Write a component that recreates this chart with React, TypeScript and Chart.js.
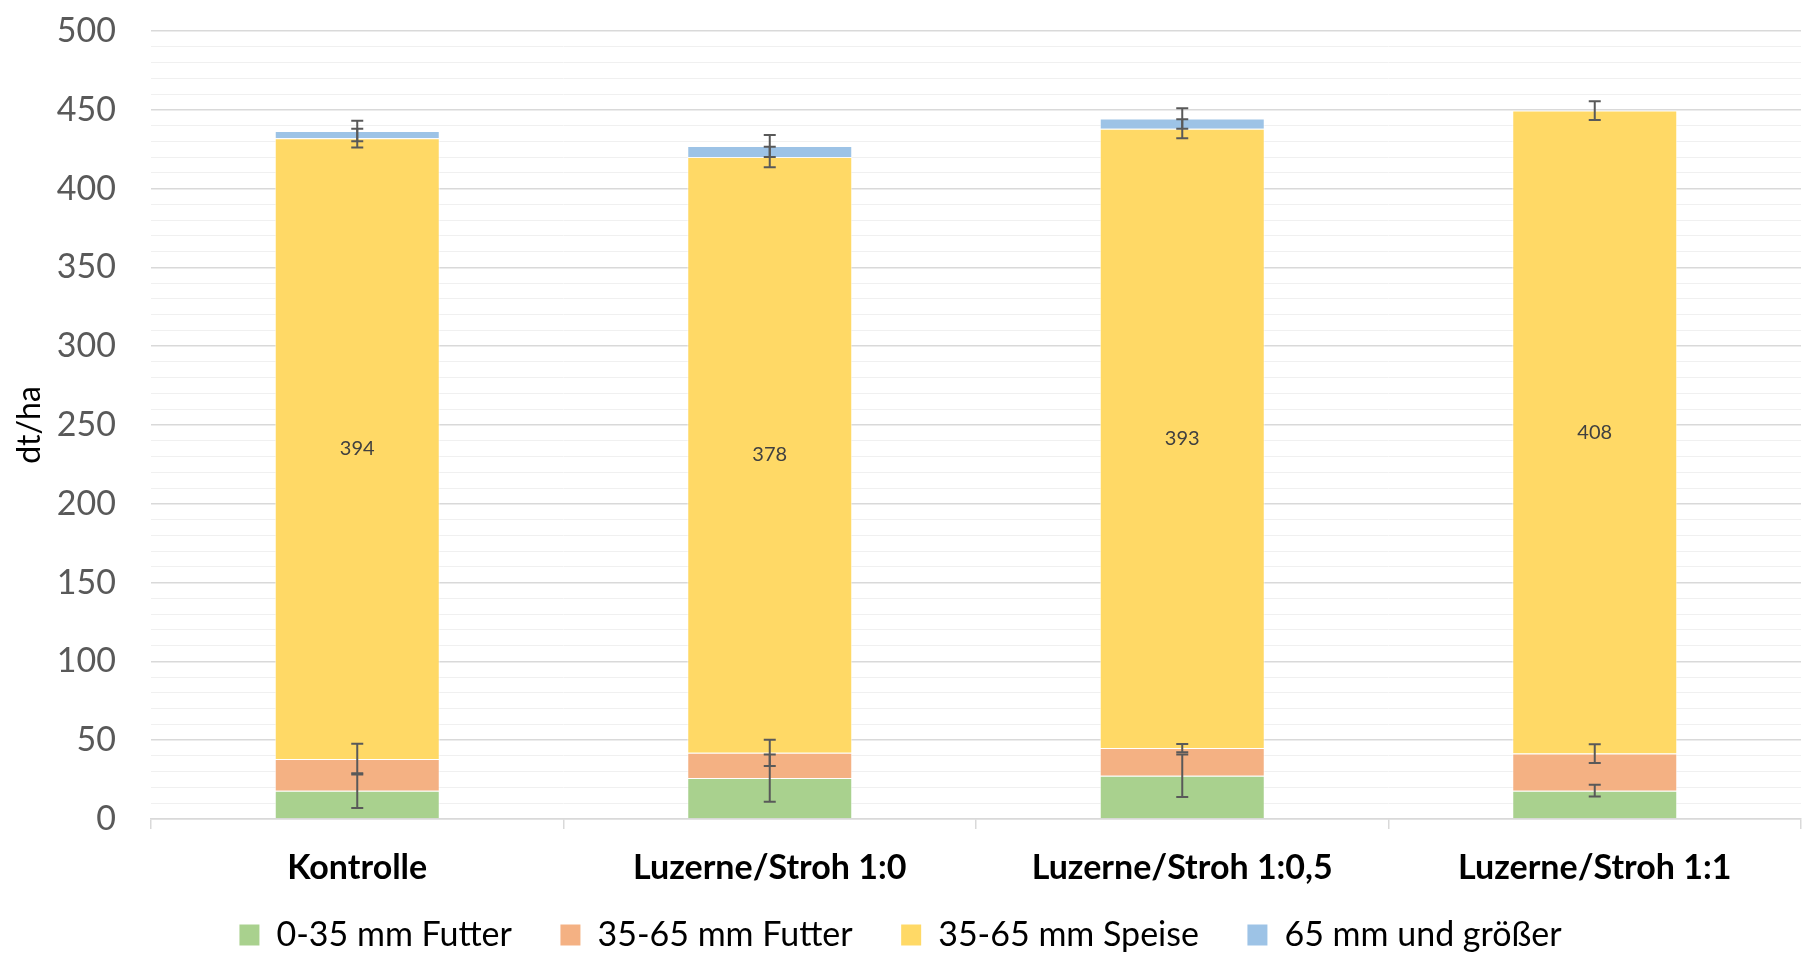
import React, { useEffect, useRef } from "react";
import { Chart, registerables } from "chart.js";

Chart.register(...registerables);

const FONT = 'Lato, "Open Sans", sans-serif';

const categories = ["Kontrolle", "Luzerne/Stroh 1:0", "Luzerne/Stroh 1:0,5", "Luzerne/Stroh 1:1"];
const seriesNames = ["0-35 mm Futter", "35-65 mm Futter", "35-65 mm Speise", "65 mm und größer"];

const futterSmall = [18, 26, 27.5, 18];
const futterMid = [20, 16, 17.5, 23.5];
const speise = [394, 378, 393, 408];
const large = [4.5, 7, 6.5, 0];

const futterSmallErr = [11, 15, 13.5, 3.8];
const futterMidErr = [9.8, 8.3, 2.6, 6];
const speiseErr = [6, 6.5, 6, 6];
const largeErr = [6.5, 7, 6.5, 0];

const yTicksMajor = [0, 50, 100, 150, 200, 250, 300, 350, 400, 450, 500];

const colors = ["#A9D18E", "#F4B183", "#FFD966", "#9DC3E6"];

const errorBarPlugin = {
  id: "errorBars",
  afterDatasetsDraw(chart: any) {
    const ctx = chart.ctx;
    const yScale = chart.scales.y;
    const n = chart.data.labels.length;
    ctx.save();
    ctx.strokeStyle = "#595959";
    ctx.lineWidth = 2;
    for (let j = 0; j < n; j++) {
      let cum = 0;
      chart.data.datasets.forEach((ds: any, i: number) => {
        const v = ds.data[j];
        cum += v;
        const err = ds.errors ? ds.errors[j] : 0;
        if (!err) return;
        const bar = chart.getDatasetMeta(i).data[j];
        const x = bar.x;
        const yT = yScale.getPixelForValue(cum + err);
        const yB = yScale.getPixelForValue(cum - err);
        const hw = 6;
        ctx.beginPath();
        ctx.moveTo(x, yT);
        ctx.lineTo(x, yB);
        ctx.moveTo(x - hw, yT);
        ctx.lineTo(x + hw, yT);
        ctx.moveTo(x - hw, yB);
        ctx.lineTo(x + hw, yB);
        ctx.stroke();
      });
    }
    ctx.restore();
  },
};

const valueLabelPlugin = {
  id: "valueLabels",
  afterDatasetsDraw(chart: any) {
    const ctx = chart.ctx;
    ctx.save();
    ctx.font = `20px ${FONT}`;
    ctx.fillStyle = "#404040";
    ctx.textAlign = "center";
    ctx.textBaseline = "middle";
    chart.data.datasets.forEach((ds: any, i: number) => {
      if (!ds.showValue) return;
      chart.getDatasetMeta(i).data.forEach((bar: any, j: number) => {
        const yc = (bar.y + bar.base) / 2;
        ctx.fillText(String(ds.data[j]), bar.x, yc);
      });
    });
    ctx.restore();
  },
};

export default function App() {
  const ref = useRef<HTMLCanvasElement | null>(null);

  useEffect(() => {
    if (!ref.current) return;
    const mk = (idx: number, data: number[], errors: number[], showValue = false) => ({
      label: seriesNames[idx],
      data,
      errors,
      showValue,
      backgroundColor: colors[idx],
      borderColor: "rgba(255,255,255,0.6)",
      borderWidth: 1,
      categoryPercentage: 1,
      barPercentage: 0.4,
    });
    const chart = new Chart(ref.current, {
      type: "bar",
      data: {
        labels: categories,
        datasets: [
          mk(0, futterSmall, futterSmallErr),
          mk(1, futterMid, futterMidErr),
          mk(2, speise, speiseErr, true),
          mk(3, large, largeErr),
        ] as any,
      },
      options: {
        animation: false,
        responsive: false,
        maintainAspectRatio: false,
        layout: { padding: { top: 31, right: 4, bottom: 0, left: 0 } },
        plugins: {
          legend: {
            position: "bottom",
            labels: {
              boxWidth: 20,
              boxHeight: 21,
              padding: 23,
              color: "#000000",
              font: { size: 34, family: FONT },
              generateLabels: (chart: any) => {
                const items = Chart.defaults.plugins.legend.labels.generateLabels(chart);
                return items.map((it: any, i: number) => ({
                  ...it,
                  text: i < items.length - 1 ? it.text + "\u2003" : it.text,
                  lineWidth: 0,
                }));
              },
            },
          } as any,
          tooltip: { enabled: false },
        },
        scales: {
          x: {
            stacked: true,
            afterFit: (s: any) => {
              s.height = 76;
            },
            grid: {
              display: true,
              drawOnChartArea: false,
              drawTicks: true,
              tickLength: 10,
              color: "#d9d9d9",
              lineWidth: 1.5,
            },
            border: { display: true, color: "#d9d9d9", width: 1.5 },
            ticks: {
              padding: 19,
              color: "#000000",
              font: { size: 34, weight: "bold", family: FONT },
              maxRotation: 0,
              autoSkip: false,
            },
          },
          y: {
            stacked: true,
            min: 0,
            max: 500,
            afterFit: (s: any) => {
              s.width = 151;
            },
            ticks: {
              stepSize: 10,
              autoSkip: false,
              padding: 0,
              color: "#595959",
              font: { size: 34, family: FONT },
              callback: (v: any) => (yTicksMajor.includes(Number(v)) ? String(v) : ""),
            },
            grid: {
              drawTicks: true,
              tickLength: 35,
              tickColor: "rgba(0,0,0,0)",
              color: (c: any) => (c.tick && c.tick.value % 50 === 0 ? "#d9d9d9" : "#f0f0f0"),
              lineWidth: (c: any) => (c.tick && c.tick.value % 50 === 0 ? 1.5 : 1),
            },
            border: { display: false },
            title: {
              display: true,
              text: "dt/ha",
              color: "#000000",
              font: { size: 32, family: FONT },
              padding: { top: 10, bottom: 0 },
            },
          },
        },
      },
      plugins: [errorBarPlugin, valueLabelPlugin],
    });
    return () => chart.destroy();
  }, []);

  return (
    <div style={{ position: "fixed", left: 0, top: 0, width: 1805, height: 962, background: "#ffffff" }}>
      <canvas ref={ref} width={1805} height={962} />
    </div>
  );
}
